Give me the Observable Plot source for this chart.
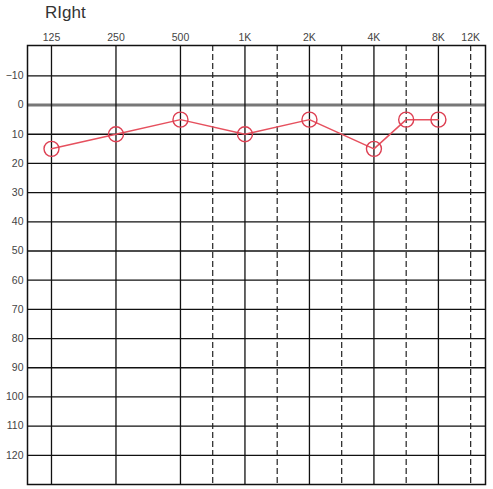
<!DOCTYPE html>
<html>
<head>
<meta charset="utf-8">
<script src="https://cdn.jsdelivr.net/npm/d3@7"></script>
<script src="https://cdn.jsdelivr.net/npm/@observablehq/plot@0.6"></script>
<style>
  html, body { margin: 0; padding: 0; background: #fff; }
  #wrap { position: relative; width: 493px; height: 489px; }
  #title { position: absolute; left: 45px; top: 3px; font: 17px "Liberation Sans", Arial, sans-serif; color: #333; }
  svg { display: block; }
</style>
</head>
<body>
<div id="wrap"><div id="title">RIght</div></div>
<script>
// Data
const freqs = [125, 250, 500, 1000, 2000, 4000, 6000, 8000];
const thresholds = [15, 10, 5, 10, 5, 15, 5, 5];
const octaveFreqs = [125, 250, 500, 1000, 2000, 4000, 8000];
const halfFreqs = [750, 1500, 3000, 6000, 12000];
const tickFreqs = [125, 250, 500, 1000, 2000, 4000, 8000, 12000];
const tickLabels = ["125", "250", "500", "1K", "2K", "4K", "8K", "12K"];
const dbTicks = [-10, 0, 10, 20, 30, 40, 50, 60, 70, 80, 90, 100, 110, 120];

// audiogram position: octaves above 125 Hz, half-octaves drawn midway
const pos = f => Math.round(Math.log2(f / 125) * 2) / 2;

const points = freqs.map((f, i) => ({x: pos(f), y: thresholds[i]}));
const labelOf = new Map(tickFreqs.map((f, i) => [pos(f), tickLabels[i]]));

const chart = Plot.plot({
  width: 493,
  height: 489,
  marginLeft: 27,
  marginRight: 8,
  marginTop: 45,
  marginBottom: 5,
  style: {fontFamily: "'Liberation Sans', Arial, sans-serif", fontSize: "10.5px", color: "#444", background: "#fff"},
  x: {type: "linear", domain: [-0.372, 6.73]},
  y: {domain: [-20.4, 130], reverse: true},
  marks: [
    Plot.ruleY(dbTicks.filter(d => d !== 0), {stroke: "#111", strokeWidth: 1.3}),
    Plot.ruleY([0], {stroke: "#777", strokeWidth: 3}),
    Plot.ruleX(octaveFreqs.map(pos), {stroke: "#111", strokeWidth: 1.3}),
    Plot.ruleX(halfFreqs.map(pos), {stroke: "#222", strokeWidth: 1.2, strokeDasharray: "6,3"}),
    Plot.frame({stroke: "#111", strokeWidth: 1.5}),
    Plot.axisX(tickFreqs.map(pos), {anchor: "top", tickSize: 0, tickPadding: 5, tickFormat: d => labelOf.get(d), label: null, fill: "#444"}),
    Plot.axisY(dbTicks, {anchor: "left", tickSize: 0, tickPadding: 4, label: null, fill: "#444"}),
    Plot.line(points, {x: "x", y: "y", stroke: "#e6505e", strokeWidth: 1.5}),
    Plot.dot(points, {x: "x", y: "y", r: 7.5, stroke: "#dd3f52", strokeWidth: 1.4, fill: "none"})
  ]
});
document.getElementById("wrap").appendChild(chart);
</script>
</body>
</html>
